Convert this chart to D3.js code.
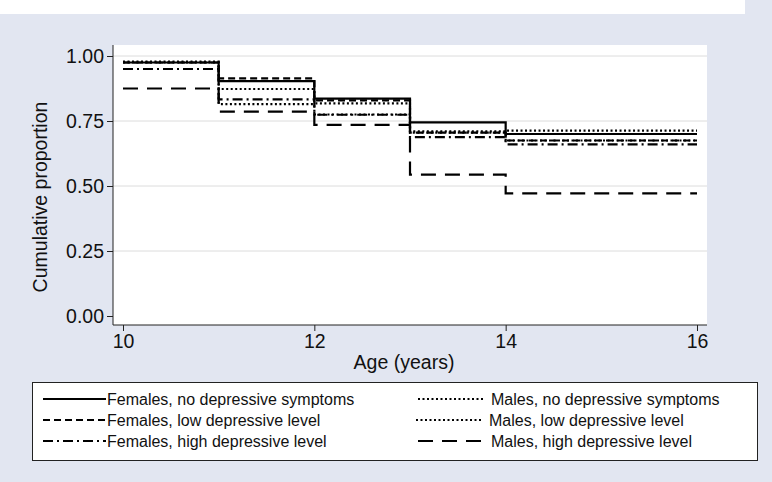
<!DOCTYPE html>
<html><head><meta charset="utf-8">
<script src="https://cdn.jsdelivr.net/npm/d3@7"></script>
<style>body{margin:0;background:#e2e6f1;} svg{display:block;font-family:"Liberation Sans",Arial,sans-serif;}</style>
</head><body>
<svg id="c" width="772" height="482"></svg>
<script>
// ---- data ----
const ages = [10, 11, 12, 13, 14];      // interval start ages
const ageEnd = 16;
const xTicks = [10, 12, 14, 16];
const yTicks = [0, 0.25, 0.5, 0.75, 1];
const femalesNone = [0.975, 0.903, 0.836, 0.745, 0.700];
const femalesLow  = [0.975, 0.914, 0.829, 0.705, 0.675];
const femalesHigh = [0.950, 0.833, 0.774, 0.688, 0.660];
const malesNone   = [0.978, 0.873, 0.818, 0.710, 0.713];
const malesLow    = [0.975, 0.815, 0.775, 0.705, 0.675];
const malesHigh   = [0.875, 0.786, 0.735, 0.544, 0.472];
const seriesNames = ["Females, no depressive symptoms","Females, low depressive level","Females, high depressive level",
                     "Males, no depressive symptoms","Males, low depressive level","Males, high depressive level"];

const series = [
  {name: seriesNames[0], values: femalesNone, dash: null},
  {name: seriesNames[1], values: femalesLow, dash: "7,4"},
  {name: seriesNames[2], values: femalesHigh, dash: "10,4,2,4"},
  {name: seriesNames[3], values: malesNone, dash: "2,2.5"},
  {name: seriesNames[4], values: malesLow, dash: "2,2.5"},
  {name: seriesNames[5], values: malesHigh, dash: "15,9"}
];

const svg = d3.select("#c");
svg.append("rect").attr("x",0).attr("y",0).attr("width",745).attr("height",14).attr("fill","#ffffff");

const plot = {l:113, r:707, t:45, b:325};
const x = d3.scaleLinear().domain([10,16]).range([123,697]);
const y = d3.scaleLinear().domain([0,1]).range([316,56]);

svg.append("rect").attr("x",plot.l).attr("y",plot.t).attr("width",plot.r-plot.l).attr("height",plot.b-plot.t).attr("fill","#fff");

// gridlines
svg.append("g").selectAll("line").data(yTicks.filter(d=>d>0)).join("line")
  .attr("x1",plot.l).attr("x2",plot.r).attr("y1",d=>y(d)).attr("y2",d=>y(d))
  .attr("stroke","#dcdcdc").attr("stroke-width",1);

// axes
const yAxis = d3.axisLeft(y).tickValues(yTicks).tickFormat(d3.format(".2f")).tickSize(6).tickPadding(3);
const gy = svg.append("g").attr("transform",`translate(${plot.l},0)`).call(yAxis);
gy.select(".domain").attr("d",`M0,${plot.t}V${plot.b}`).attr("stroke","#222");
gy.selectAll(".tick line").attr("stroke","#222");
gy.selectAll(".tick text").attr("font-size",19.5).attr("fill","#111").attr("font-family","Liberation Sans, Arial, sans-serif");

const xAxis = d3.axisBottom(x).tickValues(xTicks).tickFormat(d3.format("d")).tickSize(6).tickPadding(3);
const gx = svg.append("g").attr("transform",`translate(0,${plot.b})`).call(xAxis);
gx.select(".domain").attr("d",`M${plot.l},0H${plot.r}`).attr("stroke","#222");
gx.selectAll(".tick line").attr("stroke","#222");
gx.selectAll(".tick text").attr("font-size",19.5).attr("fill","#111").attr("font-family","Liberation Sans, Arial, sans-serif");

svg.append("text").attr("x",404).attr("y",369).attr("text-anchor","middle").attr("font-size",19.5).attr("fill","#111").text("Age (years)");
svg.append("text").attr("transform","translate(47,197) rotate(-90)").attr("text-anchor","middle").attr("font-size",19.5).attr("fill","#111").text("Cumulative proportion");

// step lines
const line = d3.line().x(d=>x(d[0])).y(d=>y(d[1])).curve(d3.curveStepAfter);
series.forEach(s=>{
  const pts = ages.map((a,i)=>[a, s.values[i]]);
  pts.push([ageEnd, s.values[s.values.length-1]]);
  svg.append("path").attr("d",line(pts)).attr("fill","none").attr("stroke","#000")
    .attr("stroke-width",2.2).attr("stroke-dasharray",s.dash);
});

// legend
svg.append("rect").attr("x",32.5).attr("y",382.5).attr("width",725).attr("height",78).attr("fill","#fff").attr("stroke","#222").attr("stroke-width",1);
const legItems = [
  {s:series[0], x1:43, x2:106, tx:107, y:399},
  {s:series[1], x1:43, x2:106, tx:107, y:420},
  {s:series[2], x1:43, x2:106, tx:107, y:441},
  {s:series[3], x1:418, x2:484, tx:491, y:399},
  {s:series[4], x1:416, x2:482, tx:489, y:420},
  {s:series[5], x1:418, x2:484, tx:491, y:441}
];
const lg = svg.append("g");
legItems.forEach(it=>{
  lg.append("line").attr("x1",it.x1).attr("x2",it.x2).attr("y1",it.y).attr("y2",it.y)
    .attr("stroke","#000").attr("stroke-width",2.2).attr("stroke-dasharray",it.s.dash);
  lg.append("text").attr("x",it.tx).attr("y",it.y).attr("dy","0.35em").attr("font-size",16).attr("fill","#111").text(it.s.name);
});
</script>
</body></html>
